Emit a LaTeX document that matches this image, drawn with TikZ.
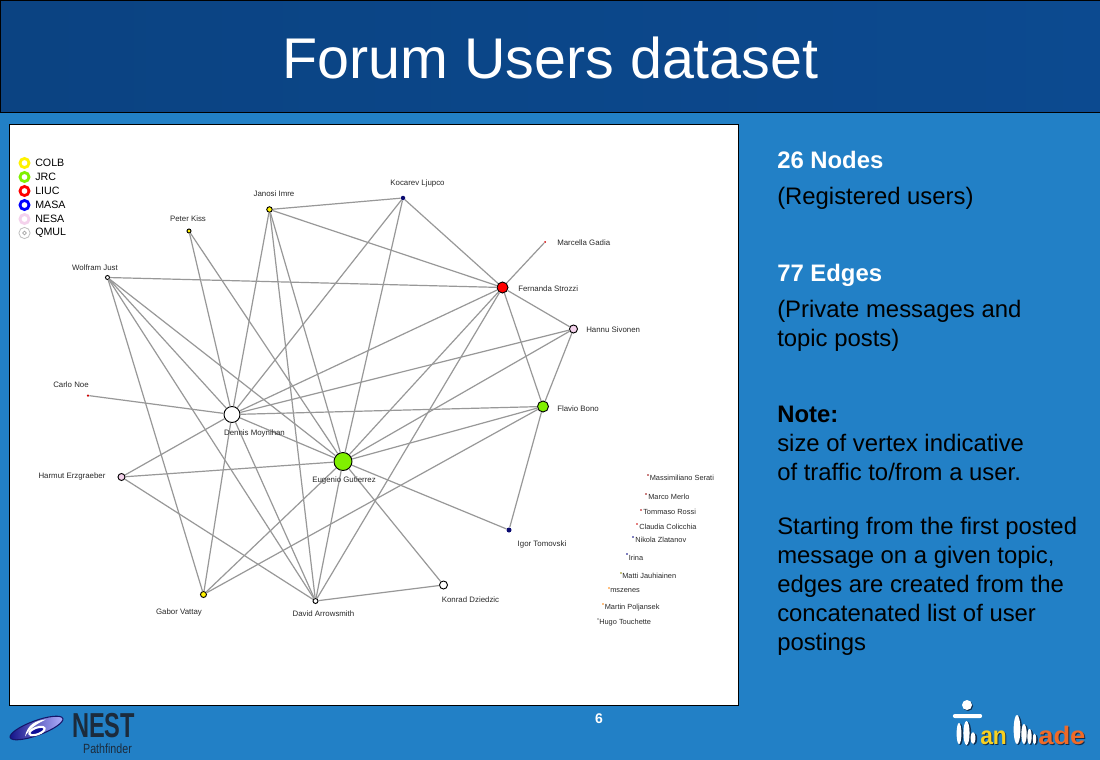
\documentclass[tikz,border=0pt]{standalone}
\usepackage{fontspec}
\setmainfont{Liberation Sans}
\usetikzlibrary{shapes.geometric}
\definecolor{slidebg}{HTML}{2280C6}
\definecolor{headbg}{HTML}{0C4A90}
\definecolor{grnode}{HTML}{80F000}
\definecolor{pknode}{HTML}{F4D2EC}
\definecolor{navynode}{HTML}{0A0A70}
\definecolor{edgecol}{HTML}{989898}
\definecolor{labcol}{HTML}{2A2A2A}
\definecolor{nestcol}{HTML}{1C2B3C}
\definecolor{nestdark}{HTML}{16166A}
\definecolor{mmyellow}{HTML}{F8D020}
\definecolor{mmorange}{HTML}{F06A28}
\definecolor{mmshadow}{HTML}{0E2E50}
\tikzset{
    vertex/.style={circle,draw=black,inner sep=0pt,line width=0.7pt},
    lonedot/.style={circle,inner sep=0pt,minimum size=1.2pt},
    edgeline/.style={draw=edgecol,line width=0.9pt},
    namelab/.style={font=\fontsize{5.9}{7}\selectfont,text=labcol,inner sep=0pt},
    lonelab/.style={font=\fontsize{5.55}{7}\selectfont,text=labcol,inner sep=0pt,anchor=west},
    legendlab/.style={font=\fontsize{8}{9}\selectfont,text=black,inner sep=0pt,anchor=west},
    ring/.style={circle,inner sep=0pt,minimum size=6.8pt,line width=2.1pt,fill=white},
    sidetxt/.style={font=\fontsize{17.9}{20}\selectfont,inner sep=0pt,anchor=base west},
    sidehead/.style={font=\bfseries\fontsize{17.9}{20}\selectfont,inner sep=0pt,anchor=base west},
    mmbar/.style={ellipse,fill=white,inner sep=0pt},
    mmtxt/.style={font=\bfseries\fontsize{19}{20}\selectfont,inner sep=0pt,anchor=base west}
}
\begin{document}
\begin{tikzpicture}[x=0.75pt,y=-0.75pt]
    \useasboundingbox (0,0) rectangle (1100,760);
    \fill[slidebg] (0,0) rectangle (1100,760);

    % Header
    \draw[black,line width=0.7pt,left color=headbg!90!black,right color=headbg] (0,0) rectangle (1100,112.5);
    \node[text=white,inner sep=0pt,font=\fontsize{43.05}{50}\selectfont] (title) at (550.5,58) {Forum Users dataset};

    % Panel
    \draw[black,fill=white,line width=0.7pt] (9.5,124.5) rectangle (738.5,705);

    % Legend
    \foreach \nm/\y/\col in {
        COLB/163/yellow,
        JRC/177/grnode,
        LIUC/191/red,
        MASA/205/blue,
        NESA/219/pknode} {
        \node[ring,draw=\col] (ring\nm) at (24.5,\y) {};
        \node[legendlab] (leg\nm) at (35,\y) {\nm};
    }
    \node[circle,draw=black!25,inner sep=0pt,minimum size=8.4pt,line width=0.6pt] (ringQMUL) at (24.5,233) {};
    \node[circle,draw=black!35,inner sep=0pt,minimum size=2.8pt,line width=0.5pt] (ringQMULin) at (24.5,233) {};
    \node[legendlab] (legQMUL) at (35,233) {QMUL};

    % Vertices
    \foreach \nm/\x/\y/\sz/\col in {
        wolfram/107.5/277.5/4/white,
        peter/189/231/4/yellow,
        janosi/269.5/209.5/5.5/yellow,
        fernanda/502.5/287.5/11/red,
        hannu/573.5/329/8/pknode,
        flavio/543/406.5/11/grnode,
        dennis/232/414.5/16/white,
        eugenio/343/461.5/18/grnode,
        harmut/121.5/477/7/pknode,
        gabor/203.5/594.5/6/yellow,
        david/315.5/601/5/white,
        konrad/443.5/585/8/white} {
        \node[vertex,fill=\col,minimum size=\sz*0.75pt] (\nm) at (\x,\y) {};
    }
    % Small ones, no black ring
    \foreach \nm/\x/\y/\sz/\col in {
        kocarev/403/198/4.5/navynode,
        marcella/545/242/2/red!80!black,
        carlo/88/395.5/2.5/red!80!black,
        igor/509/530/5/navynode} {
        \node[circle,inner sep=0pt,fill=\col,minimum size=\sz*0.75pt] (\nm) at (\x,\y) {};
    }

    % Edges
    \foreach \a/\b in {
        wolfram/fernanda, wolfram/dennis, wolfram/eugenio, wolfram/david, wolfram/gabor,
        peter/dennis, peter/eugenio,
        janosi/kocarev, janosi/fernanda, janosi/dennis, janosi/david, janosi/eugenio,
        kocarev/fernanda, kocarev/dennis, kocarev/eugenio,
        marcella/fernanda,
        fernanda/hannu, fernanda/flavio, fernanda/dennis, fernanda/eugenio, fernanda/david,
        hannu/flavio, hannu/dennis, hannu/eugenio,
        flavio/dennis, flavio/eugenio, flavio/gabor, flavio/igor,
        carlo/dennis,
        dennis/eugenio, dennis/harmut, dennis/gabor, dennis/david,
        eugenio/harmut, eugenio/gabor, eugenio/david, eugenio/igor, eugenio/konrad,
        harmut/david,
        david/konrad} {
        \draw[edgeline] (\a) -- (\b);
    }

    % Vertex names
    \foreach \nm/\x/\y/\txt in {
        wolfram/95/268/Wolfram Just,
        peter/188/219/Peter Kiss,
        janosi/274/193.5/Janosi Imre,
        kocarev/417.5/183/Kocarev Ljupco,
        carlo/71/385/Carlo Noe,
        dennis/254.5/433/Dennis Moynihan,
        eugenio/344/480/Eugenio Gutierrez,
        harmut/72/476/Harmut Erzgraeber,
        igor/542/544/Igor Tomovski,
        gabor/179/612/Gabor Vattay,
        david/323.5/613.5/David Arrowsmith,
        konrad/470.5/600/Konrad Dziedzic} {
        \node[namelab] (\nm-lab) at (\x,\y) {\txt};
    }
    \foreach \nm/\x/\y/\txt in {
        marcella/557/242.5/Marcella Gadia,
        fernanda/518/288.5/Fernanda Strozzi,
        hannu/586/330/Hannu Sivonen,
        flavio/557/408.5/Flavio Bono} {
        \node[namelab,anchor=west] (\nm-lab) at (\x,\y) {\txt};
    }

    % Vertices with no edges
    \foreach \nm/\x/\y/\tx/\ty/\col/\txt in {
        serati/648/475/649.5/477.5/red!60!black/Massimiliano Serati,
        merlo/646/494/648/496.5/red!60!black/Marco Merlo,
        rossi/641/510/643/512/red!70!black/Tommaso Rossi,
        colicchia/637/524/639/526.5/red!80!black/Claudia Colicchia,
        zlatanov/633/537/635/540/blue!50!black/Nikola Zlatanov,
        irina/627/554/628.5/557.5/blue!50!black/Irina,
        jauhiainen/621/573/622/576/olive/Matti Jauhiainen,
        mszenes/609/588/610/591/orange/mszenes,
        poljansek/603/604/604.5/608/orange/Martin Poljansek,
        touchette/598/619/599/623/gray/Hugo Touchette} {
        \node[lonedot,fill=\col] (\nm) at (\x,\y) {};
        \node[lonelab] (\nm-lab) at (\tx,\ty) {\txt};
    }

    % Side text
    \node[sidehead,text=white] (nodes) at (777,168) {26 Nodes};
    \node[sidetxt] (nodesub) at (777,204) {(Registered users)};
    \node[sidehead,text=white] (edges) at (777,281) {77 Edges};
    \foreach \nm/\y/\txt in {
        edgesa/317/(Private messages and,
        edgesb/346/topic posts),
        notea/451/size of vertex indicative,
        noteb/480/{of traffic to/from a user.},
        starta/534/Starting from the first posted,
        startb/563/{message on a given topic,},
        startc/592/edges are created from the,
        startd/621/concatenated list of user,
        starte/650/postings} {
        \node[sidetxt] (\nm) at (777,\y) {\txt};
    }
    \node[sidehead] (note) at (777,422) {Note:};

    % Page number
    \node[text=white,inner sep=0pt,font=\bfseries\fontsize{10.5}{12}\selectfont] (page) at (599,719) {6};

    % NEST logo
    \node[ellipse,rotate=20,draw=nestdark,left color=nestdark!80!blue,right color=blue!30!white,line width=0.8pt,minimum width=42pt,minimum height=11pt,inner sep=0pt] (nestoval) at (36.5,728) {};
    \fill[white] (46,719.5) .. controls (36,720) and (27,725) .. (25,736.5) .. controls (30,728) and (38,723) .. (46,719.5);
    \node[ellipse,rotate=20,draw=white,line width=1.6pt,fill=nestdark!70!blue,minimum width=12pt,minimum height=5pt,inner sep=0pt] (nestring) at (37,731) {};
    \node[text=nestcol,inner sep=0pt,font=\bfseries\fontsize{26}{28}\selectfont,xscale=0.68] (nest) at (103.5,726) {NEST};
    \node[text=nestcol,inner sep=0pt,font=\fontsize{10}{11}\selectfont,xscale=0.8] (pathfinder) at (107.5,749) {Pathfinder};

    % Man Made logo
    \node[circle,fill=mmshadow,minimum size=7.5pt,inner sep=0pt] (mmheadsh) at (968,706) {};
    \node[circle,fill=white,minimum size=7.5pt,inner sep=0pt] (mmhead) at (967,705) {};
    \node[rounded corners=1.5pt,fill=white,minimum width=22pt,minimum height=3pt,inner sep=0pt] (mmarms) at (967.5,716) {};
    \foreach \nm/\x/\w/\h/\y in {
        bara/959/3.6/16/733.5,
        barb/966.5/4.6/18/733,
        barc/973/3.6/9/738,
        bard/1017/5/22/729.5,
        bare/1024/4/15/734,
        barf/1029.5/3.2/11.5/736.5,
        barg/1034.5/2.6/8/739} {
        \node[mmbar,fill=mmshadow,minimum width=\w pt+0.8pt,minimum height=\h pt] (\nm-sh) at (\x+1.2,\y+0.8) {};
        \node[mmbar,minimum width=\w pt,minimum height=\h pt] (\nm) at (\x,\y) {};
    }
    \node[mmtxt,text=mmshadow,xscale=0.9] (mmansh) at (981,745) {an};
    \node[mmtxt,text=mmyellow,xscale=0.9] (mman) at (980,744) {an};
    \node[mmtxt,text=mmshadow,xscale=1.08] (mmadesh) at (1039,745) {ade};
    \node[mmtxt,text=mmorange,xscale=1.08] (mmade) at (1038,744) {ade};
\end{tikzpicture}
\end{document}
